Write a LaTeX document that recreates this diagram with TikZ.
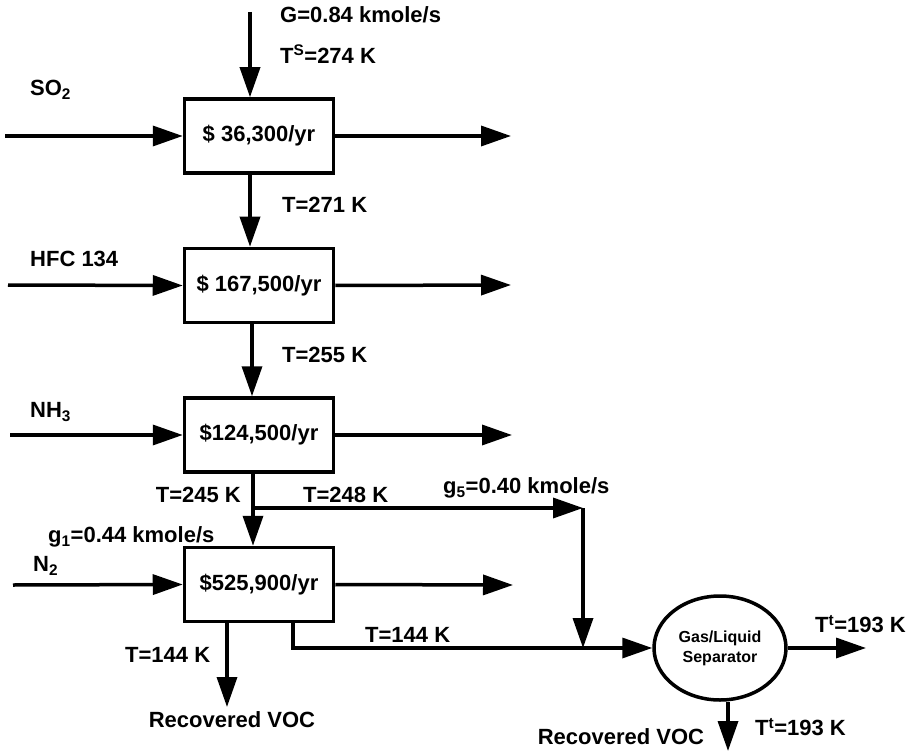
\documentclass[tikz,border=0pt]{standalone}
\usepackage{fontspec}
\setmainfont{Liberation Sans}
\usepackage{tikz}
\usetikzlibrary{shapes.geometric, arrows.meta}
\tikzstyle{arrow} = [line width=3.5pt,-{Triangle[length=30pt,width=20pt]}]
\tikzstyle{unit} = [draw, line width=3.5pt, minimum width=149pt, minimum height=74pt, inner sep=0pt]
\tikzstyle{sep} = [draw, ellipse, line width=3.5pt, minimum width=132pt, minimum height=104pt, inner sep=0pt, align=center, font=\bfseries\fontsize{16}{20}\selectfont]
\tikzstyle{lbl} = [inner sep=0pt, anchor=west]

\begin{document}
\begin{tikzpicture}[x=1pt, y=-1pt, node distance=149.5pt, font=\bfseries\fontsize{22}{24}\selectfont]
\useasboundingbox (0,0) rectangle (915,751);

% condensers
\node (c1) [unit] at (259,136) {\$ 36,300/yr};
\node (c2) [unit, below of=c1] {\$ 167,500/yr};
\node (c3) [unit, below of=c2] {\$124,500/yr};
\node (c4) [unit, below of=c3] {\$525,900/yr};
\node (gls) [sep] at (720,648) {Gas/Liquid\\Separator};

% free ends
\coordinate (top) at (250,12);
\coordinate (in1) at (5,136);
\coordinate (in2) at (8,285);
\coordinate (in3) at (10,435);
\coordinate (in4) at (13,585);
\coordinate (out1) at (511,136);
\coordinate (out2) at (511,285);
\coordinate (out3) at (512,435);
\coordinate (out4) at (513,585);
\coordinate (split) at (253,508);
\coordinate (mix) at (583,508);
\coordinate (join) at (583,648);
\coordinate (bend) at (293,648);
\coordinate (gas) at (866,648);
\coordinate (voc1) at (227,707);
\coordinate (voc2) at (728,751);

% labels
\node (so2) [lbl] at (30,90) {SO\textsubscript{2}};
\node (hfc) [lbl] at (30,259) {HFC 134};
\node (nh3) [lbl] at (30,412) {NH\textsubscript{3}};
\node (n2) [lbl] at (33,566) {N\textsubscript{2}};
\node (g) [lbl] at (280,15) {G=0.84 kmole/s};
\node (ts) [lbl] at (280,54) {T\textsuperscript{S}=274 K};
\node (t271) [lbl] at (282,205) {T=271 K};
\node (t255) [lbl] at (282,355) {T=255 K};
\node (t245) [lbl, anchor=east] at (241,495) {T=245 K};
\node (t248) [lbl] at (303,495) {T=248 K};
\node (g5) [lbl] at (443,488) {g\textsubscript{5}=0.40 kmole/s};
\node (g1) [lbl] at (48,537) {g\textsubscript{1}=0.44 kmole/s};
\node (t144a) [lbl] at (125,655) {T=144 K};
\node (t144b) [lbl] at (365,635) {T=144 K};
\node (voca) at (232,720) {Recovered VOC};
\node (vocb) at (621,737) {Recovered VOC};
\node (tt1) [lbl] at (815,624) {T\textsuperscript{t}=193 K};
\node (tt2) [lbl] at (755,727) {T\textsuperscript{t}=193 K};

% streams
\draw [arrow] (top) -- (top |- c1.north);
\draw [arrow] ([xshift=-9pt]c1.south) -- ([xshift=-9pt]c2.north);
\draw [arrow] ([xshift=-7pt]c2.south) -- ([xshift=-7pt]c3.north);
\draw [arrow] ([xshift=-6pt]c3.south) -- ([xshift=-6pt]c4.north);

\draw [arrow] (in1) -- (c1.west);
\draw [arrow] (in2) -- (c2.west);
\draw [arrow] (in3) -- (c3.west);
\draw [arrow] (in4) -- (c4.west);

\draw [arrow] (c1.east) -- (out1);
\draw [arrow] (c2.east) -- (out2);
\draw [arrow] (c3.east) -- (out3);
\draw [arrow] (c4.east) -- (out4);

\draw [arrow] (split) -- (mix);
\draw [arrow] (mix) -- (join);
\draw [arrow] ([xshift=34pt]c4.south) -- (bend) -- (gls.west);
\draw [arrow] ([xshift=-32pt]c4.south) -- (voc1);

\draw [arrow] (gls.east) -- (gas);
\draw [arrow] ([xshift=8pt]gls.south) -- (voc2);
\end{tikzpicture}
\end{document}
